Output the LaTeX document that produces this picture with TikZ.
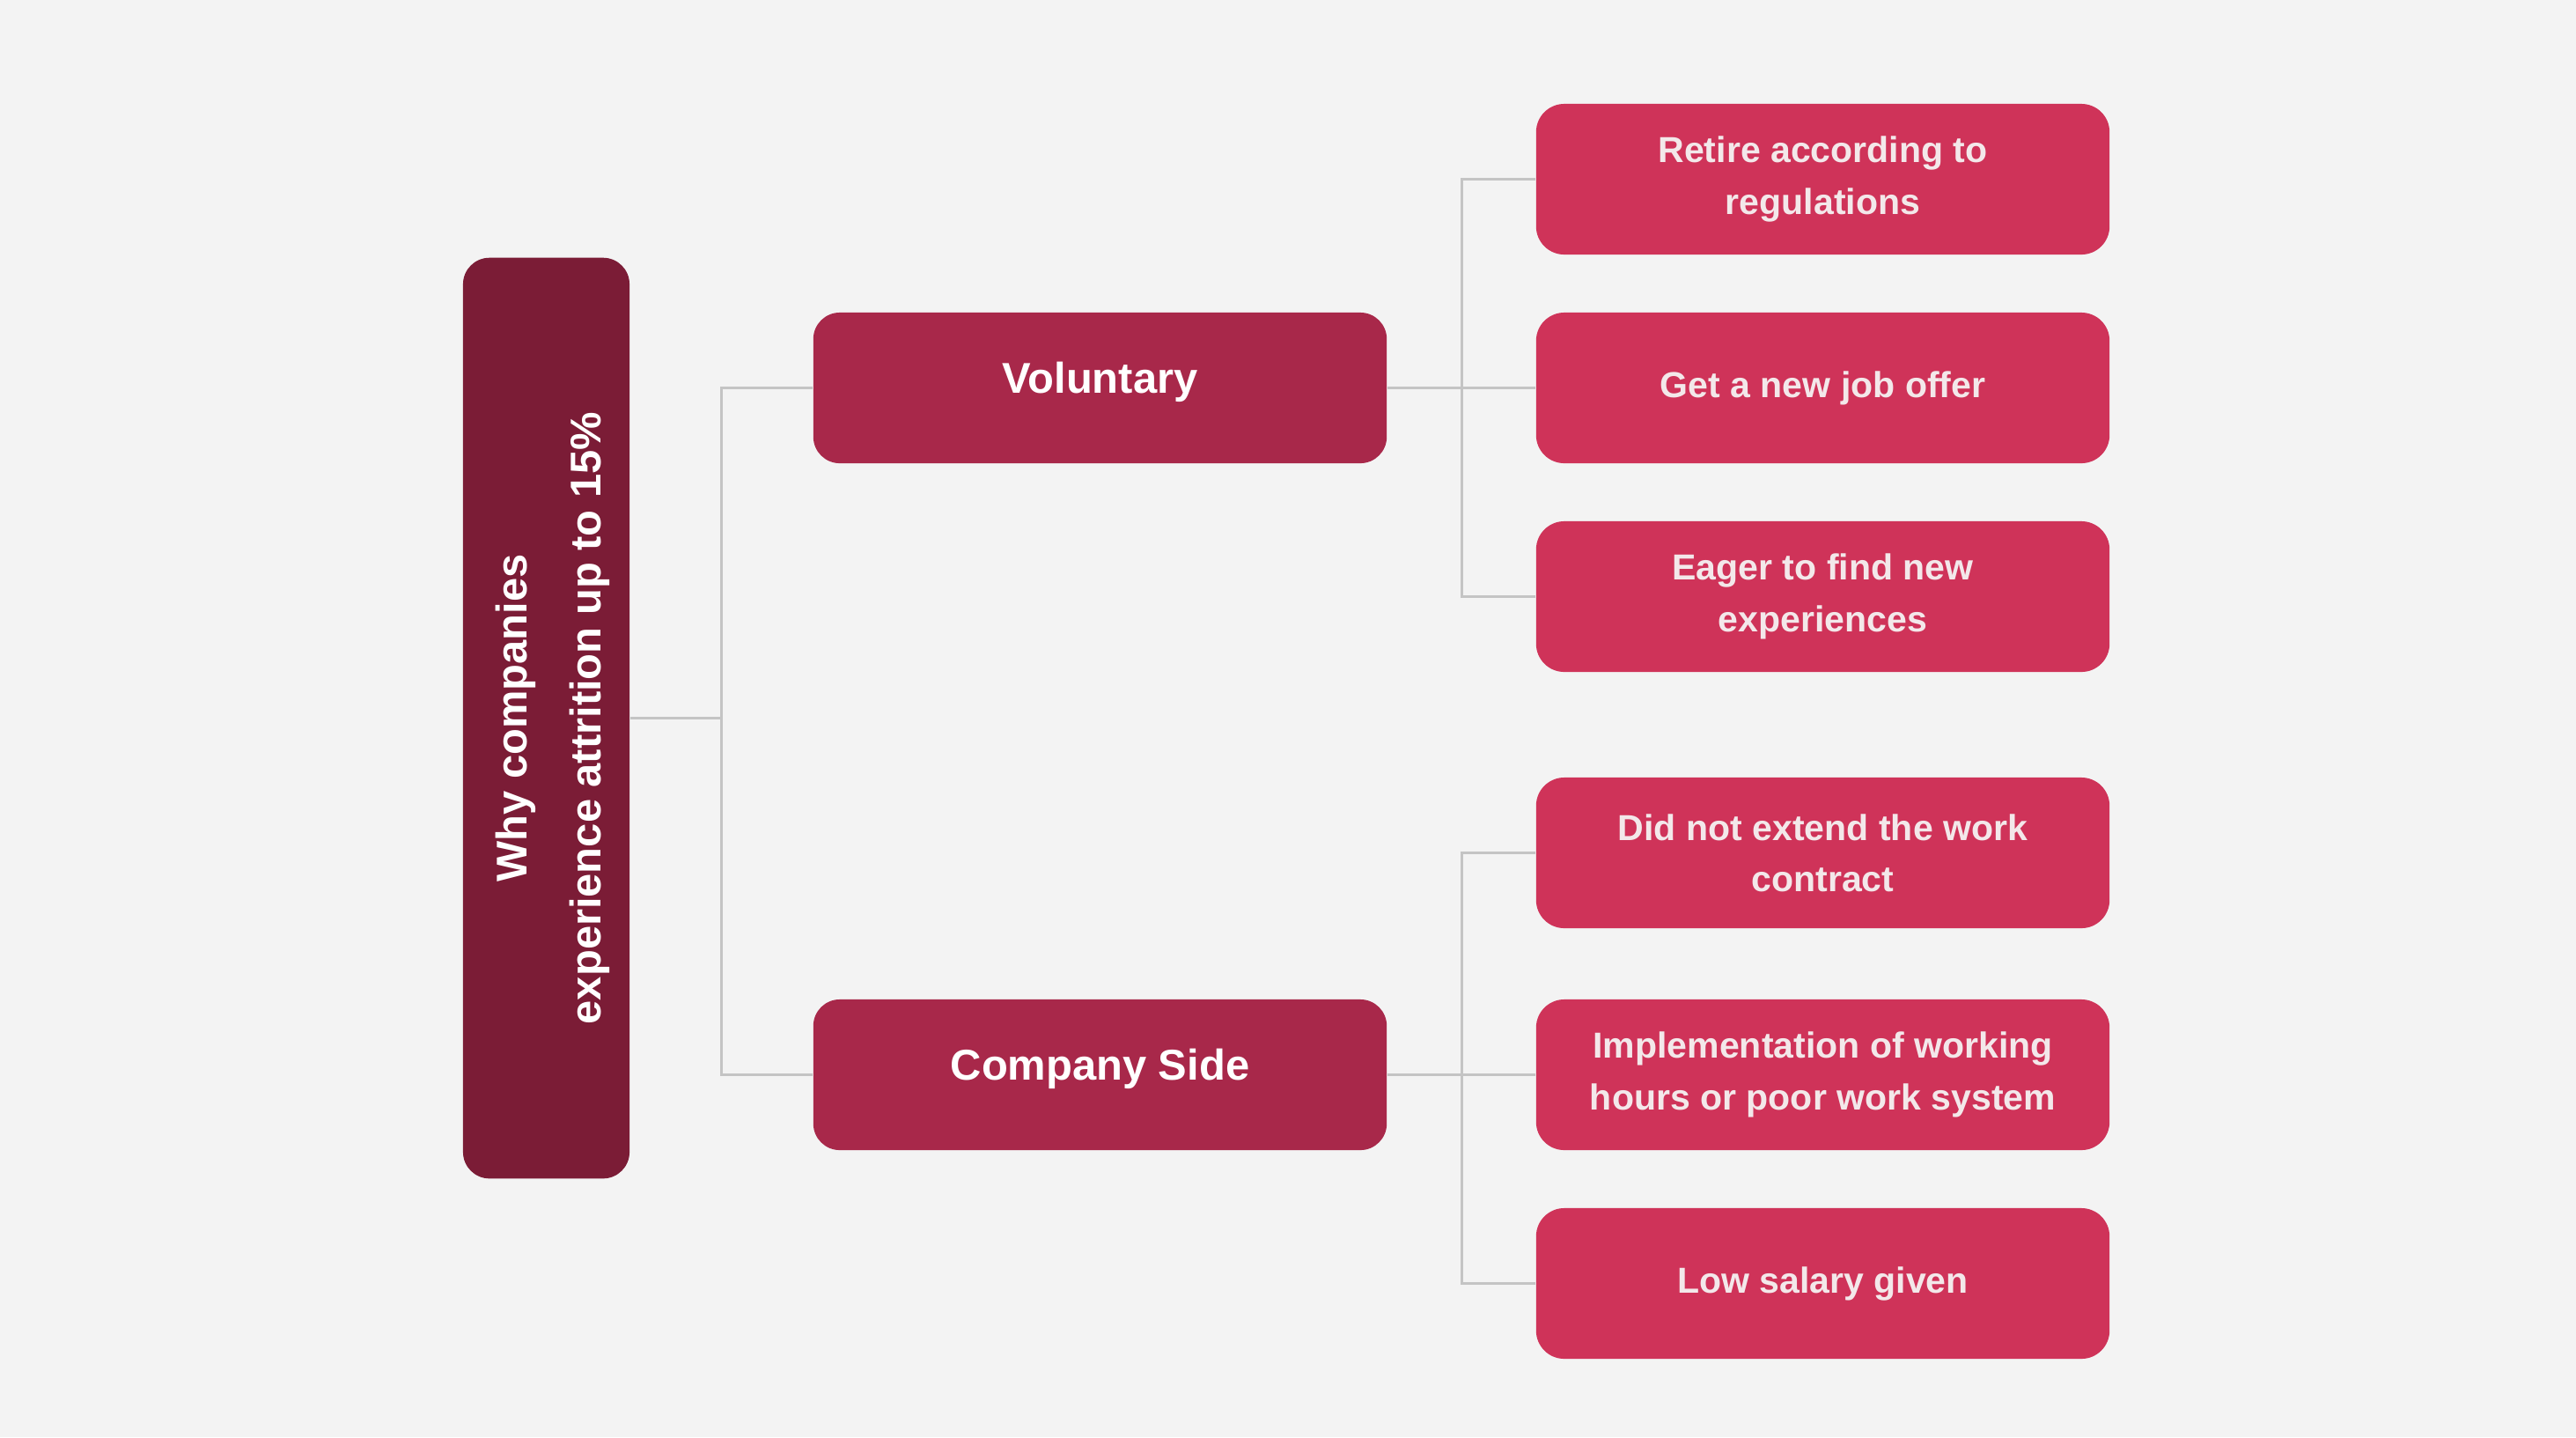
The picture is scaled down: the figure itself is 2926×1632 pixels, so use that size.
\documentclass[tikz,border=0pt]{standalone}
\usepackage{fontspec}
\setmainfont{Liberation Sans}
\usetikzlibrary{calc}
\definecolor{bg}{HTML}{F3F3F3}
\definecolor{rootc}{HTML}{7B1C36}
\definecolor{midc}{HTML}{A8284A}
\definecolor{leafc}{HTML}{CF3359}
\definecolor{linec}{HTML}{C4C4C4}
\definecolor{leaftext}{HTML}{F3E8EA}
\begin{document}
\begin{tikzpicture}[x=0.01cm,y=-0.01cm,
  rootbox/.style={fill=rootc, rounded corners=0.3cm, inner sep=0pt, rotate=90,
    minimum width=10.45cm, minimum height=1.89cm, text=white, align=center,
    text height=1.34cm,
    font=\bfseries\fontsize{13.9pt}{23.9pt}\selectfont},
  midbox/.style={fill=midc, rounded corners=0.3cm, inner sep=0pt,
    minimum width=6.51cm, minimum height=1.71cm, text=white,
    text height=0.37cm, text depth=0.25cm,
    font=\bfseries\fontsize{13.9pt}{16pt}\selectfont},
  leafbox/.style={fill=leafc, rounded corners=0.32cm, inner sep=0pt,
    minimum width=6.51cm, minimum height=1.71cm, text=leaftext, align=center,
    font=\bfseries\fontsize{11.67pt}{16.6pt}\selectfont},
  conn/.style={draw=linec, line width=0.85pt}]
\fill[bg] (0,0) rectangle (2926,1632);
\useasboundingbox (0,0) rectangle (2926,1632);

\node[rootbox] (root) at (620.5,815.5) {Why companies\\experience attrition up to 15\%};

\node[midbox] (vol) at (1249.5,440.5) {Voluntary};
\node[midbox] (comp) at (1249.5,1220.5) {Company Side};

\node[leafbox] (l1) at (2070.5,203.5) {Retire according to\\regulations};
\node[leafbox] (l2) at (2070.5,440.5) {Get a new job offer};
\node[leafbox] (l3) at (2070.5,677.5) {Eager to find new\\experiences};
\node[leafbox] (l4) at (2070.5,968.5) {Did not extend the work\\contract};
\node[leafbox] (l5) at (2070.5,1220.5) {Implementation of working\\hours or poor work system};
\node[leafbox] (l6) at (2070.5,1457.5) {Low salary given};

\coordinate (j1) at ($(root.south)!0.5!(vol.west |- root.south)$);
\coordinate (j2) at ($(vol.east)!0.5!(l2.west)$);
\coordinate (j3) at ($(comp.east)!0.5!(l5.west)$);

\draw[conn] (root.south) -- (j1);
\draw[conn] (vol.west) -| (j1);
\draw[conn] (comp.west) -| (j1);

\draw[conn] (vol.east) -- (l2.west);
\draw[conn] (l1.west) -| (j2);
\draw[conn] (l3.west) -| (j2);

\draw[conn] (comp.east) -- (l5.west);
\draw[conn] (l4.west) -| (j3);
\draw[conn] (l6.west) -| (j3);
\end{tikzpicture}
\end{document}
